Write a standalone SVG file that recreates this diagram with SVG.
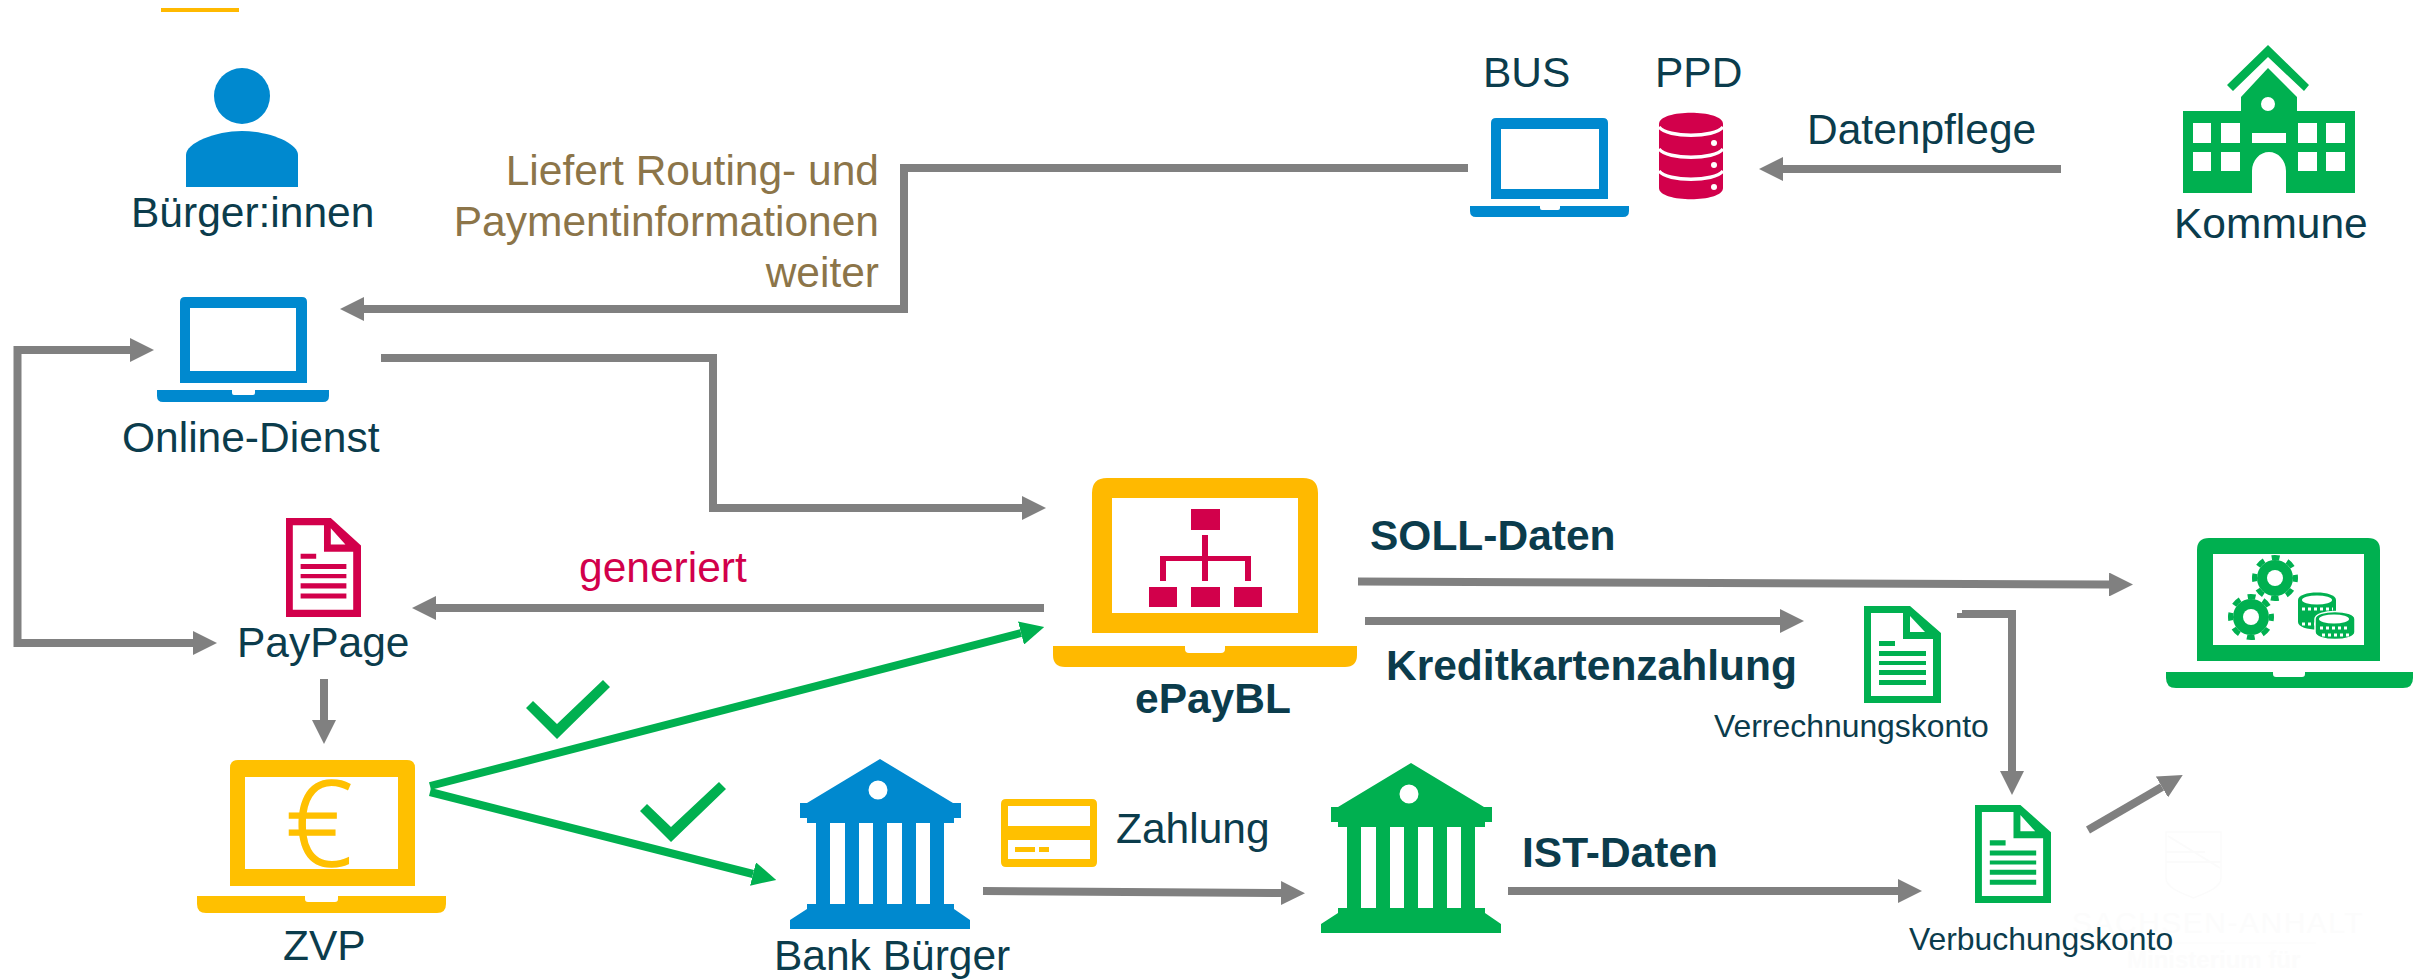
<svg xmlns="http://www.w3.org/2000/svg" width="2428" height="980" viewBox="0 0 2428 980">
<style>
text{font-family:"Liberation Sans",Arial,sans-serif;font-size:42.5px;fill:#0B3C4C}
.b{font-weight:700}
.s{font-size:31.9px}
.blue{fill:#0089CF}
.green{fill:#00B050}
.red{fill:#D2004B}
.yel{fill:#FFB900}
.yel2{fill:#FFC000}
.w{fill:#fff}
.con{fill:none;stroke:#808080;stroke-width:8;marker-end:url(#ah)}
.gc{fill:none;stroke:#00B050;stroke-width:8;marker-end:url(#ahg)}
.wm{fill:#FCFCFC}
.wl{fill:none;stroke:#FBFBFB}
</style>
<defs>
<marker id="ah" markerUnits="userSpaceOnUse" markerWidth="24" markerHeight="24" refX="0" refY="12" orient="auto"><path d="M0,0L24,12L0,24Z" fill="#808080"/></marker>
<marker id="ahg" markerUnits="userSpaceOnUse" markerWidth="24" markerHeight="24" refX="0" refY="12" orient="auto"><path d="M0,0L24,12L0,24Z" fill="#00B050"/></marker>
<path id="doc" fill-rule="evenodd" d="M0,0H46L77,27V97H0ZM7,7V90H69V33H39V7ZM46,10V26H61ZM15,35V40H31V35ZM15,45V50H62V45ZM15,55V59H62V55ZM15,64V69H62V64ZM15,74V79H62V74Z"/>
<path id="bank" fill-rule="evenodd" d="M1411,763L1484,807H1492V822H1485V827H1475V908H1485V913L1501,924V933H1321V924L1338,913V908H1347V827H1338V822H1331V807H1338ZM1361,827V908H1376V827ZM1390,827V908H1404V827ZM1418,827V908H1433V827ZM1447,827V908H1461V827ZM1418.5,794A9.5,9.5 0 1 0 1399.5,794A9.5,9.5 0 1 0 1418.5,794Z"/>
<g id="gear"><circle r="18" fill="#00B050"/><circle r="20.5" fill="none" stroke="#00B050" stroke-width="5" stroke-dasharray="8 8.1" stroke-dashoffset="4"/><circle r="8" fill="#fff"/></g>
</defs>
<rect width="2428" height="980" fill="#fff"/>
<g id="watermark">
<path class="wl" d="M2166,832H2221V878C2221,888 2205,893 2193.500,898C2182,893 2166,888 2166,878Z" stroke-width="1.500"/>
<path class="wl" d="M2166,862H2221M2168,836L2220,868M2166,852H2205" stroke-width="2"/>
<text class="wm" x="2072" y="933" style="font-size:30px;letter-spacing:1.500px">SACHSEN-ANHALT</text>
<path class="wl" d="M2072,943H2316" stroke-width="1"/>
<text class="wm b" x="2127" y="968" style="font-size:24px">Ministerium für</text>
</g>
<path id="accent" class="yel" d="M161,8H239V12H161Z"/>
<g id="connectors">
<path class="con" d="M1468,168H904V309H364"/>
<path class="con" d="M2061,169H1783"/>
<path class="con" d="M381,358H713V508H1022"/>
<path class="con" d="M17.500,500V350H130"/>
<path class="con" d="M17.500,500V643H193"/>
<path class="con" d="M1044,608H436"/>
<path class="con" d="M324,679V720"/>
<path class="con" d="M1358,581.500L2109,584.500"/>
<path class="con" d="M1365,621H1780"/>
<path class="con" d="M1962,614H2012V771"/>
<path d="M1957,615.500H1965" stroke="#808080" stroke-width="5"/>
<path class="con" d="M2088,830L2162,787"/>
<path class="con" d="M983,891L1281,893"/>
<path class="con" d="M1508,891H1898"/>
<path class="gc" d="M430,786L1021,633"/>
<path class="gc" d="M430,792L753,874"/>
</g>
<g id="checks">
<polygon class="green" points="610,687 603,680 557,724 533,701 526,708 557,739"/>
<polygon class="green" points="726,789 719,782 671,827 647,804 640,811 671,842"/>
</g>
<g id="buerger">
<ellipse class="blue" cx="242" cy="96" rx="28" ry="28"/>
<path class="blue" d="M186,187V155C186,143 215,131 242,131C269,131 298,143 298,155V187Z"/>
<text x="131" y="227">Bürger:innen</text>
</g>
<g id="online-dienst">
<path class="blue" fill-rule="evenodd" d="M185,297H302Q307,297 307,302V383H180V302Q180,297 185,297ZM190,308V371H296V308ZM157,390H232V393Q232,395 234,395H253Q255,395 255,393V390H329V396Q329,402 323,402H163Q157,402 157,396Z"/>
<text x="122" y="452">Online-Dienst</text>
</g>
<g id="liefert">
<text style="fill:#8C7549" text-anchor="end" x="879" y="185">Liefert Routing- und</text>
<text style="fill:#8C7549" text-anchor="end" x="879" y="236">Paymentinformationen</text>
<text style="fill:#8C7549" text-anchor="end" x="879" y="287">weiter</text>
</g>
<g id="bus">
<text x="1483" y="87">BUS</text>
<path class="blue" fill-rule="evenodd" d="M1496,118H1603Q1608,118 1608,123V199H1491V123Q1491,118 1496,118ZM1501,129V189H1599V129ZM1470,206H1540V208Q1540,210 1542,210H1558Q1560,210 1560,208V206H1629V211Q1629,217 1623,217H1476Q1470,217 1470,211Z"/>
</g>
<g id="ppd">
<text x="1655" y="87">PPD</text>
<path class="red" d="M1659,124C1659,109 1723,109 1723,124V188C1723,203 1659,203 1659,188Z"/>
<path d="M1659,127C1668,138 1714,138 1723,127M1659,149C1668,160 1714,160 1723,149M1659,171C1668,182 1714,182 1723,171" fill="none" stroke="#fff" stroke-width="3.500"/>
<circle class="w" cx="1714" cy="143" r="3"/><circle class="w" cx="1714" cy="165" r="3"/><circle class="w" cx="1714" cy="187" r="3"/>
</g>
<text x="1807" y="144">Datenpflege</text>
<g id="kommune">
<path class="green" fill-rule="evenodd" d="M2183,111H2241V97L2268,68L2297,97V111H2355V193H2286V171C2286,160 2278,152 2269,152C2260,152 2252,160 2252,171V193H2183ZM2193,123V143H2211V123ZM2221,123V143H2240V123ZM2298,123V143H2317V123ZM2326,123V143H2345V123ZM2252,133V143H2286V133ZM2193,152V171H2211V152ZM2221,152V171H2240V152ZM2298,152V171H2317V152ZM2326,152V171H2345V152ZM2275,104A7,7 0 1 0 2261,104A7,7 0 1 0 2275,104Z"/>
<polygon class="green" points="2268,45 2309,85 2304,91 2268,57 2233,91 2227,85"/>
<text x="2174" y="238">Kommune</text>
</g>
<g id="paypage">
<use href="#doc" class="red" transform="translate(286,518) scale(.974,1.02)"/>
<text x="237" y="657">PayPage</text>
</g>
<text style="fill:#D2004B" x="579" y="582">generiert</text>
<g id="zvp">
<path class="yel2" fill-rule="evenodd" d="M238,760H407Q415,760 415,768V886H230V768Q230,760 238,760ZM245,777V869H398V777ZM197,896H305V899Q305,902 308,902H335Q338,902 338,899V896H446V904Q446,913 437,913H206Q197,913 197,904Z"/>
<text x="319" y="866" text-anchor="middle" style="font-family:'Open Sans','Liberation Sans',sans-serif;font-weight:300;font-size:118px;fill:#FFC000;stroke:#FFC000;stroke-width:1.500px">€</text>
<text x="283" y="960">ZVP</text>
</g>
<g id="bank-buerger">
<use href="#bank" class="blue" transform="translate(-531,-4)"/>
<text x="774" y="970">Bank Bürger</text>
</g>
<g id="zahlung">
<path class="yel2" fill-rule="evenodd" d="M1006,799H1092Q1097,799 1097,804V862Q1097,867 1092,867H1006Q1001,867 1001,862V804Q1001,799 1006,799ZM1008,806V826H1090V806ZM1008,840V859H1090V840ZM1015,847V852H1035V847ZM1039,847V852H1049V847Z"/>
<text x="1116" y="843">Zahlung</text>
</g>
<g id="epaybl">
<path class="yel" fill-rule="evenodd" d="M1107,478H1303Q1318,478 1318,493V633H1092V493Q1092,478 1107,478ZM1112,498V613H1298V498ZM1053,646H1185V649Q1185,653 1189,653H1221Q1225,653 1225,649V646H1357V655Q1357,667 1345,667H1065Q1053,667 1053,655Z"/>
<path class="red" d="M1191,509H1220V530H1191ZM1149,587H1177V607H1149ZM1191,587H1220V607H1191ZM1234,587H1262V607H1234ZM1202,535H1208V556H1251V581H1245V561H1208V581H1202V561H1166V581H1160V556H1202Z"/>
<text class="b" x="1135" y="713">ePayBL</text>
</g>
<text class="b" x="1370" y="550">SOLL-Daten</text>
<text class="b" x="1386" y="680">Kreditkartenzahlung</text>
<g id="verrechnungskonto">
<use href="#doc" class="green" transform="translate(1864,606)"/>
<text class="s" x="1714" y="737">Verrechnungskonto</text>
</g>
<g id="bank-land">
<use href="#bank" class="green"/>
</g>
<text class="b" x="1522" y="867">IST-Daten</text>
<g id="verbuchungskonto">
<use href="#doc" class="green" transform="translate(1975,805) scale(.987,1.01)"/>
<text class="s" x="1909" y="950">Verbuchungskonto</text>
</g>
<g id="finanzsystem">
<path class="green" fill-rule="evenodd" d="M2209,538H2368Q2380,538 2380,550V661H2197V550Q2197,538 2209,538ZM2213,554V645H2364V554ZM2166,672H2273V674Q2273,677 2276,677H2302Q2305,677 2305,674V672H2413V678Q2413,688 2403,688H2176Q2166,688 2166,678Z"/>
<use href="#gear" transform="translate(2275,578)"/>
<use href="#gear" transform="translate(2251,617)"/>
<g>
<path class="green" d="M2298,600C2298,590 2336,590 2336,600V622C2336,632 2298,632 2298,622Z"/>
<ellipse class="w" cx="2317" cy="600" rx="15" ry="4.500"/>
<path d="M2302,609H2333M2302,624H2318" stroke="#fff" stroke-width="3" stroke-dasharray="3 3" fill="none"/>
<path class="green" d="M2315,619C2315,609 2355,609 2355,619V632C2355,642 2315,642 2315,632Z" stroke="#fff" stroke-width="1.500"/>
<ellipse class="w" cx="2334" cy="619" rx="15" ry="4.500"/>
<path d="M2320,628H2350M2322,635H2349" stroke="#fff" stroke-width="3" stroke-dasharray="3 3" fill="none"/>
</g>
</g>
</svg>
